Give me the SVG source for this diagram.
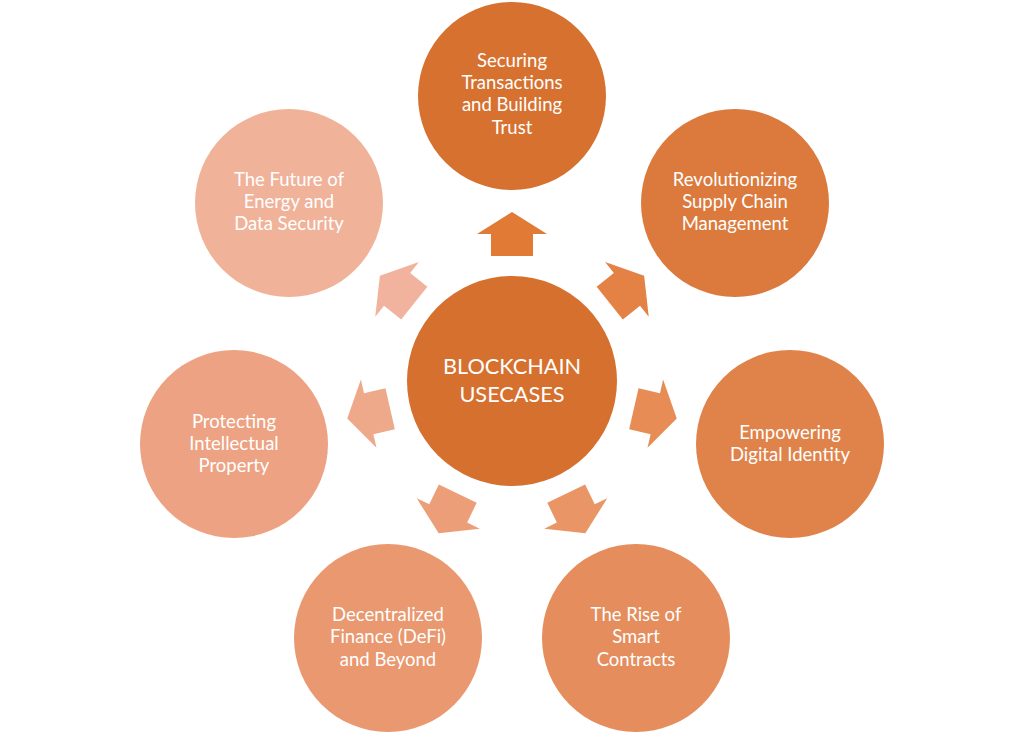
<svg xmlns="http://www.w3.org/2000/svg" width="1024" height="734" viewBox="0 0 1024 734">
<style>
  .t { font-family: Lato, "Liberation Sans", sans-serif; font-size: 18.5px; fill: #ffffff; text-anchor: middle; }
  .c { font-family: Lato, "Liberation Sans", sans-serif; font-size: 21.7px; fill: #ffffff; text-anchor: middle; }
</style>
<defs>
  <polygon id="arr" points="0,-169 35,-147 21,-147 21,-125 -21,-125 -21,-147 -35,-147"/>
</defs>
<rect width="1024" height="734" fill="#ffffff"/>
<g id="connectors">
  <use href="#arr" transform="translate(512,381) rotate(0)" fill="#E07A34"/>
  <use href="#arr" transform="translate(512,381) rotate(51.43)" fill="#E38244"/>
  <use href="#arr" transform="translate(512,381) rotate(102.86)" fill="#E78C55"/>
  <use href="#arr" transform="translate(512,381) rotate(154.29)" fill="#EA9566"/>
  <use href="#arr" transform="translate(512,381) rotate(205.71)" fill="#EC9E78"/>
  <use href="#arr" transform="translate(512,381) rotate(257.14)" fill="#EEA88A"/>
  <use href="#arr" transform="translate(512,381) rotate(308.57)" fill="#F1B39D"/>
</g>
<g id="center">
  <circle cx="512" cy="381" r="105" fill="#D5702E"/>
  <text class="c" x="512" y="374">BLOCKCHAIN</text>
  <text class="c" x="512" y="402">USECASES</text>
</g>
<g id="securing">
  <circle cx="512" cy="96" r="94" fill="#D77130"/>
  <text class="t" x="512" y="67">Securing</text>
  <text class="t" x="512" y="89">Transactions</text>
  <text class="t" x="512" y="111">and Building</text>
  <text class="t" x="512" y="134">Trust</text>
</g>
<g id="supply">
  <circle cx="735" cy="203" r="94" fill="#DB7A3C"/>
  <text class="t" x="735" y="186">Revolutionizing</text>
  <text class="t" x="735" y="208">Supply Chain</text>
  <text class="t" x="735" y="230">Management</text>
</g>
<g id="identity">
  <circle cx="790" cy="444" r="94" fill="#E0834B"/>
  <text class="t" x="790" y="439">Empowering</text>
  <text class="t" x="790" y="461">Digital Identity</text>
</g>
<g id="smart">
  <circle cx="636" cy="638" r="94" fill="#E58D5D"/>
  <text class="t" x="636" y="621">The Rise of</text>
  <text class="t" x="636" y="643">Smart</text>
  <text class="t" x="636" y="666">Contracts</text>
</g>
<g id="defi">
  <circle cx="388" cy="638" r="94" fill="#E9986F"/>
  <text class="t" x="388" y="621">Decentralized</text>
  <text class="t" x="388" y="643">Finance (DeFi)</text>
  <text class="t" x="388" y="666">and Beyond</text>
</g>
<g id="ip">
  <circle cx="234" cy="444" r="94" fill="#EDA383"/>
  <text class="t" x="234" y="428">Protecting</text>
  <text class="t" x="234" y="450">Intellectual</text>
  <text class="t" x="234" y="472">Property</text>
</g>
<g id="energy">
  <circle cx="289" cy="203" r="94" fill="#F1B29A"/>
  <text class="t" x="289" y="186">The Future of</text>
  <text class="t" x="289" y="208">Energy and</text>
  <text class="t" x="289" y="230">Data Security</text>
</g>
</svg>
